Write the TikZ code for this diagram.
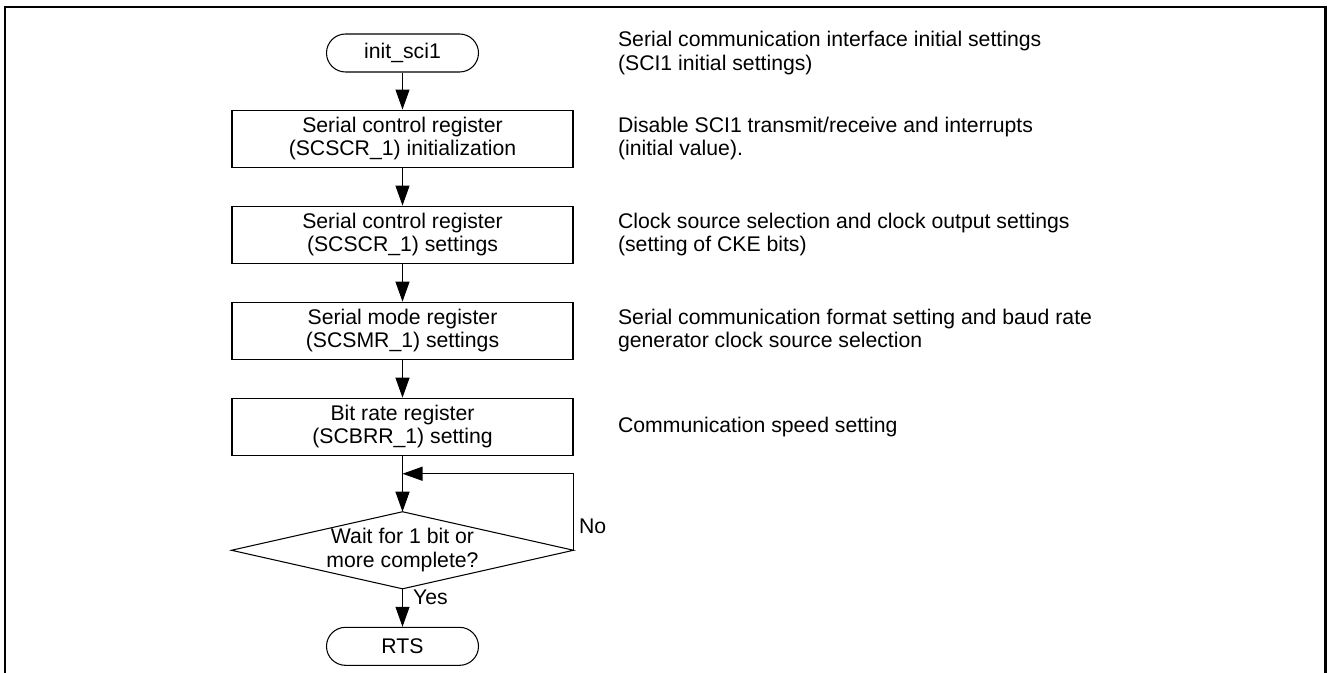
\documentclass[tikz,border=0pt]{standalone}
\usepackage{fontspec}
\setmainfont{Liberation Sans}
\usetikzlibrary{positioning,arrows.meta}

\begin{document}
\begin{tikzpicture}[node distance=0.76cm, line width=0.6pt]
  \tikzstyle{every node}=[font=\fontsize{12.07}{13.4}\selectfont]
  \tikzstyle{term}=[rectangle, rounded corners=0.38cm, draw, minimum width=3.04cm, minimum height=0.76cm, inner sep=0pt]
  \tikzstyle{proc}=[rectangle, draw, minimum width=6.82cm, minimum height=1.14cm, align=center, inner sep=0pt]
  \tikzstyle{note}=[anchor=west, align=left, inner sep=0pt]
  \tikzstyle{flow}=[->,>={Triangle[length=0.4cm,width=0.28cm]}]

  % frame and page size
  \useasboundingbox (0,0) rectangle (26.56,-13.46);
  \draw[line width=1.7pt] (0.1,-13.46) -- (0.1,-0.14) -- (26.5,-0.14) -- (26.5,-13.46);

  % Main boxes
  \node (start) [term] at (8.05,-1.06) {init\_sci1};
  \node (scscrinit) [proc, below=0.74cm of start] {Serial control register\\(SCSCR\_1) initialization};
  \node (scscrset) [proc, below=of scscrinit] {Serial control register\\(SCSCR\_1) settings};
  \node (scsmr) [proc, below=of scscrset] {Serial mode register\\(SCSMR\_1) settings};
  \node (scbrr) [proc, below=of scsmr] {Bit rate register\\(SCBRR\_1) setting};
  \node (wait) [minimum width=6.82cm, minimum height=1.52cm, align=center, inner sep=0pt,
                below=1.12cm of scbrr] {Wait for 1 bit or\\more complete?};
  \draw (wait.west) -- (wait.north) -- (wait.east) -- (wait.south) -- cycle;
  \node (rts) [term, below=of wait] {RTS};

  % Notes
  \node (nstart) [note] at ([xshift=0.88cm]scscrinit.east |- start) {Serial communication interface initial settings\\(SCI1 initial settings)};
  \node (nscscrinit) [note, right=0.88cm of scscrinit] {Disable SCI1 transmit/receive and interrupts\\(initial value).};
  \node (nscscrset) [note, right=0.88cm of scscrset] {Clock source selection and clock output settings\\(setting of CKE bits)};
  \node (nscsmr) [note, right=0.88cm of scsmr] {Serial communication format setting and baud rate\\generator clock source selection};
  \node (nscbrr) [note, right=0.88cm of scbrr] {Communication speed setting};

  % Arrows
  \coordinate (join) at ([yshift=-0.36cm]scbrr.south);
  \draw[flow] (start) to (scscrinit);
  \draw[flow] (scscrinit) to (scscrset);
  \draw[flow] (scscrset) to (scsmr);
  \draw[flow] (scsmr) to (scbrr);
  \draw[flow] (scbrr.south) to (wait.north);
  \draw[flow] (wait.east) |- (join);
  \draw[flow] (wait.south) to (rts);

  % Labels
  \node (no) [anchor=south west, inner sep=0pt] at ([xshift=0.1cm,yshift=0.32cm]wait.east) {No};
  \node (yes) [anchor=north west, inner sep=0pt] at ([xshift=0.2cm,yshift=-0.02cm]wait.south) {Yes};
\end{tikzpicture}
\end{document}
